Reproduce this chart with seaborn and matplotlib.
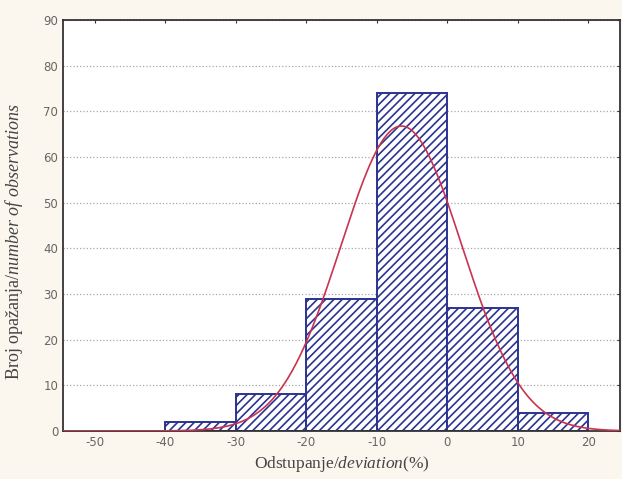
import numpy as np
import pandas as pd
import matplotlib
matplotlib.use("Agg")
import matplotlib.pyplot as plt
import seaborn as sns

# binned deviations (%), counts per 10% bin
bin_edges = [-40, -30, -20, -10, 0, 10, 20]
bin_mids = [-35, -25, -15, -5, 5, 15]
counts = [2, 8, 29, 74, 27, 4]

# fitted normal curve
fit_mean = -6.5
fit_sd = 8.6

x_ticks = [-50, -40, -30, -20, -10, 0, 10, 20]
y_ticks = [0, 10, 20, 30, 40, 50, 60, 70, 80, 90]

sns.set_style("white")
plt.rcParams["mathtext.fontset"] = "custom"
plt.rcParams["mathtext.rm"] = "Liberation Serif"
plt.rcParams["mathtext.it"] = "Liberation Serif:italic"
plt.rcParams["axes.unicode_minus"] = False
plt.rcParams["hatch.color"] = "#3a4090"
plt.rcParams["hatch.linewidth"] = 1.2

navy = "#2a3490"
red = "#c8344f"

fig = plt.figure(figsize=(6.22, 4.79), dpi=100, facecolor="#fbf7ee")
ax = fig.add_axes([0.1013, 0.1002, 0.8955, 0.8578])
ax.set_facecolor("white")

df = pd.DataFrame({"dev": bin_mids, "n": counts})
sns.histplot(data=df, x="dev", weights="n", bins=bin_edges, color="white",
             edgecolor=navy, linewidth=1.4, alpha=1, ax=ax, zorder=2)
for p in ax.patches:
    p.set_hatch("////")
    p.set_facecolor("white")
    p.set_edgecolor(navy)

# expected frequency curve for the fitted normal
total = sum(counts)
width = bin_edges[1] - bin_edges[0]
xs = np.linspace(-54.5, 24.5, 400)
ys = total * width * np.exp(-0.5 * ((xs - fit_mean) / fit_sd) ** 2) / (fit_sd * np.sqrt(2 * np.pi))
sns.lineplot(x=xs, y=ys, color=red, linewidth=1.2, ax=ax, zorder=3)

ax.set_xlim(-54.5, 24.5)
ax.set_ylim(0, 90)
ax.set_xticks(x_ticks)
ax.set_yticks(y_ticks)
ax.yaxis.grid(True, linestyle=":", color="#a8a8a8", linewidth=0.9)
ax.set_axisbelow(True)
ax.tick_params(direction="in", length=2, top=True, right=True, colors="#333333",
               labelcolor="#666666", labelsize=8.5)
for s in ax.spines.values():
    s.set_color("#333333")
    s.set_linewidth(1.3)

ax.set_xlabel(r"Odstupanje/$\mathit{deviation}$(%)", family="Liberation Serif",
              fontsize=12.5, color="#444444")
ax.set_ylabel(r"Broj opažanja/$\mathit{number\ of\ observations}$", family="Liberation Serif",
              fontsize=13, color="#444444")
ax.yaxis.set_label_coords(-0.068, 0.46)
ax.xaxis.set_label_coords(0.5, -0.057)

fig.savefig("out.png", dpi=100, facecolor=fig.get_facecolor())
